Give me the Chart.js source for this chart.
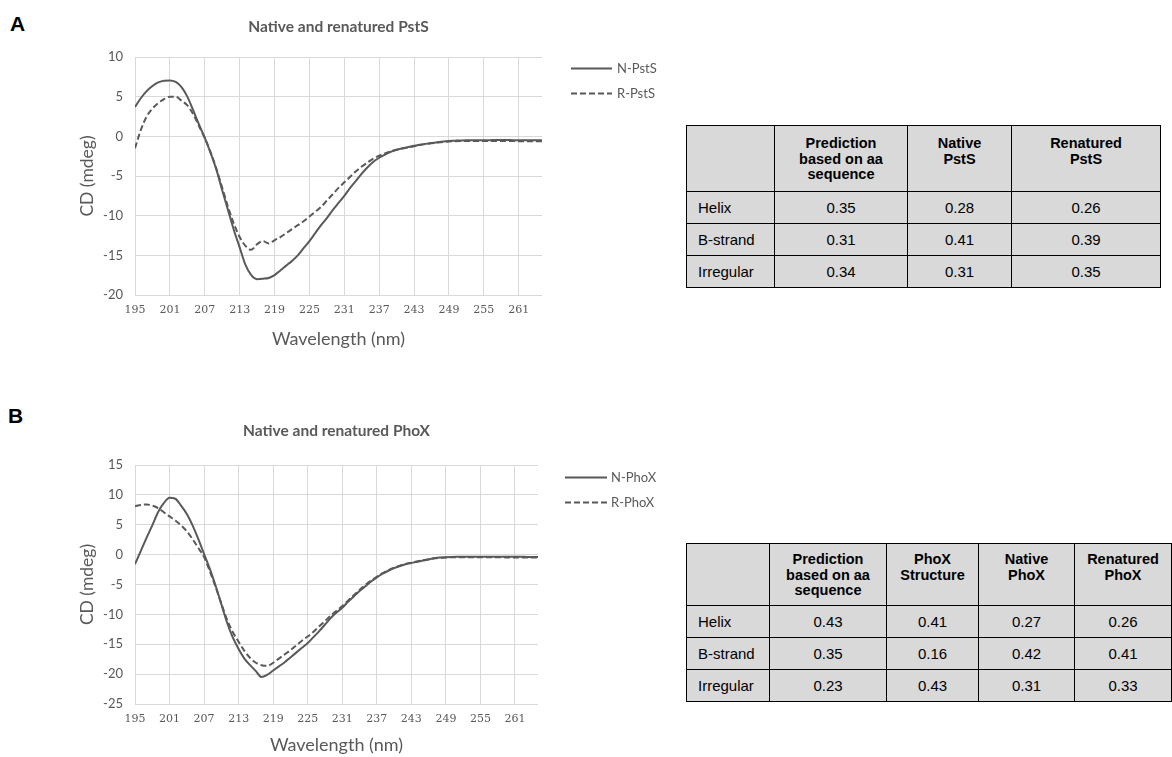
<!DOCTYPE html>
<html>
<head>
<meta charset="utf-8">
<script src="https://cdn.jsdelivr.net/npm/chart.js@4.4.1/dist/chart.umd.min.js"></script>
<style>
  html, body { margin: 0; padding: 0; background: #fff; }
  body { width: 1172px; height: 757px; overflow: hidden; position: relative;
         font-family: "Liberation Sans", Arial, sans-serif; }
  .panel { position: absolute; font-weight: bold; font-size: 21px; line-height: 21px; color: #000; }
  canvas { position: absolute; left: 0; }
  table.cd { position: absolute; border-collapse: collapse; table-layout: fixed;
             background: #d9d9d9; font-size: 15px; color: #000; }
  table.cd td { border: 1.5px solid #000; padding: 0; text-align: center; vertical-align: middle; }
  table.cd tr.head td { font-weight: bold; font-size: 14.5px; line-height: 15.5px; vertical-align: top; }
  table.cd td.rowname { text-align: left; padding-left: 11px; }
</style>
</head>
<body>
<div class="panel" style="left:10px;top:13px;">A</div>
<div class="panel" style="left:8px;top:405px;">B</div>

<canvas id="chartA" width="660" height="370" style="top:0px;"></canvas>
<canvas id="chartB" width="660" height="377" style="top:380px;"></canvas>

<table class="cd" id="tableA" style="left:686px;top:125px;"></table>
<table class="cd" id="tableB" style="left:686px;top:543px;"></table>

<script>
// Wavelength grid (nm) shared by all four CD spectra
const wavelengthNm = [
  195,196,197,198,199,200,201,202,203,204,
  205,206,207,208,209,210,211,212,213,214,
  215,216,217,218,219,220,221,222,223,224,
  225,226,227,228,229,230,231,232,233,234,
  235,236,237,238,239,240,241,242,243,244,
  245,246,247,248,249,250,251,252,253,254,
  255,256,257,258,259,260,261,262,263,264,265
];
const xTickNm = [195, 201, 207, 213, 219, 225, 231, 237, 243, 249, 255, 261];

// CD signal (mdeg), PstS
const nPstS = [
  3.7, 4.8, 5.7, 6.35, 6.8, 7.02, 7.05, 6.85, 6.2, 5.0,
  3.3, 1.5, -0.2, -2.1, -4.2, -6.8, -9.3, -11.8, -14.0, -16.2,
  -17.5, -18.0, -17.95, -17.85, -17.5, -16.9, -16.3, -15.7, -15.0, -14.1,
  -13.2, -12.2, -11.2, -10.3, -9.3, -8.4, -7.5, -6.5, -5.6, -4.7,
  -3.9, -3.2, -2.7, -2.3, -1.95, -1.7, -1.5, -1.35, -1.2, -1.05,
  -0.95, -0.85, -0.75, -0.65, -0.58, -0.55, -0.52, -0.5, -0.5, -0.48,
  -0.48, -0.48, -0.47, -0.47, -0.47, -0.48, -0.48, -0.48, -0.48, -0.49, -0.5
];
const rPstS = [
  -1.5, 0.8, 2.5, 3.5, 4.2, 4.7, 5.0, 5.0, 4.5, 3.9,
  2.8, 1.3, -0.2, -2.0, -4.1, -6.5, -8.9, -11.0, -12.7, -13.8,
  -14.3, -13.6, -13.2, -13.5, -13.1, -12.7, -12.2, -11.7, -11.2, -10.7,
  -10.1, -9.5, -8.9, -8.1, -7.3, -6.5, -5.8, -5.1, -4.4, -3.8,
  -3.3, -2.8, -2.45, -2.15, -1.9, -1.7, -1.55, -1.4, -1.25, -1.1,
  -0.97, -0.87, -0.78, -0.7, -0.64, -0.61, -0.6, -0.6, -0.6, -0.6,
  -0.6, -0.6, -0.6, -0.6, -0.6, -0.6, -0.61, -0.61, -0.61, -0.62, -0.62
];

// CD signal (mdeg), PhoX
const nPhoX = [
  -1.6, 0.6, 2.8, 4.9, 7.1, 8.6, 9.5, 9.35, 8.2, 6.8,
  4.9, 2.6, 0.1, -2.4, -5.2, -8.3, -11.4, -13.9, -15.8, -17.4,
  -18.5, -19.5, -20.5, -20.1, -19.4, -18.7, -18.0, -17.2, -16.4, -15.6,
  -14.8, -13.8, -12.8, -11.7, -10.6, -9.7, -8.9, -7.9, -7.0, -6.1,
  -5.3, -4.5, -3.8, -3.2, -2.7, -2.25, -1.9, -1.6, -1.4, -1.2,
  -1.0, -0.8, -0.62, -0.5, -0.42, -0.38, -0.36, -0.35, -0.35, -0.35,
  -0.35, -0.35, -0.35, -0.35, -0.36, -0.36, -0.37, -0.37, -0.38, -0.39, -0.4
];
const rPhoX = [
  8.1, 8.3, 8.4, 8.2, 7.8, 7.1, 6.4, 5.7, 4.9, 3.9,
  2.6, 1.1, -0.4, -2.8, -5.4, -8.2, -10.9, -13.0, -14.6, -16.1,
  -17.3, -18.1, -18.5, -18.6, -18.1, -17.4, -16.7, -16.0, -15.2, -14.4,
  -13.7, -12.9, -12.0, -11.1, -10.2, -9.4, -8.6, -7.7, -6.8, -5.9,
  -5.1, -4.35, -3.7, -3.1, -2.6, -2.2, -1.85, -1.55, -1.35, -1.15,
  -0.95, -0.78, -0.62, -0.52, -0.47, -0.45, -0.45, -0.45, -0.45, -0.45,
  -0.45, -0.45, -0.46, -0.46, -0.46, -0.47, -0.47, -0.48, -0.48, -0.49, -0.5
];

// Secondary-structure fractions
const structRows = ['Helix', 'B-strand', 'Irregular'];
const pstsHeads = ['Prediction<br>based on aa<br>sequence', 'Native<br>PstS', 'Renatured<br>PstS'];
const pstsPred = [0.35, 0.31, 0.34];
const pstsNative = [0.28, 0.41, 0.31];
const pstsRenat = [0.26, 0.39, 0.35];
const phoxHeads = ['Prediction<br>based on aa<br>sequence', 'PhoX<br>Structure', 'Native<br>PhoX', 'Renatured<br>PhoX'];
const phoxPred = [0.43, 0.35, 0.23];
const phoxStruct = [0.41, 0.16, 0.43];
const phoxNative = [0.27, 0.42, 0.31];
const phoxRenat = [0.26, 0.41, 0.33];

const INK = '#595959';
const GRID = '#d9d9d9';

// Line key drawn to the right of the plot, using each dataset's own stroke style
const seriesKey = {
  id: 'seriesKey',
  afterDraw(chart, args, opts) {
    const { ctx, chartArea } = chart;
    chart.data.datasets.forEach((ds, i) => {
      const y = Math.round(chartArea.top + opts.top + i * opts.gap) + 0.5;
      const x0 = chartArea.right + opts.left;
      ctx.save();
      ctx.strokeStyle = ds.borderColor;
      ctx.lineWidth = ds.borderWidth;
      ctx.setLineDash(ds.borderDash || []);
      ctx.beginPath();
      ctx.moveTo(x0, y);
      ctx.lineTo(x0 + opts.length, y);
      ctx.stroke();
      ctx.setLineDash([]);
      ctx.fillStyle = INK;
      ctx.font = '13px Lato';
      ctx.textBaseline = 'middle';
      ctx.fillText(ds.label, x0 + opts.length + opts.spacing, y);
      ctx.restore();
    });
  }
};

function spectrumChart(id, cfg) {
  return new Chart(document.getElementById(id), {
    type: 'line',
    data: {
      labels: wavelengthNm,
      datasets: [
        { label: cfg.names[0], data: cfg.solid, borderColor: INK, borderWidth: 2,
          pointRadius: 0, cubicInterpolationMode: 'monotone', fill: false },
        { label: cfg.names[1], data: cfg.dashed, borderColor: INK, borderWidth: 2,
          borderDash: [6, 3], pointRadius: 0, cubicInterpolationMode: 'monotone', fill: false }
      ]
    },
    options: {
      responsive: false,
      animation: false,
      devicePixelRatio: 1,
      layout: { padding: cfg.padding },
      plugins: {
        legend: { display: false },
        tooltip: { enabled: false },
        title: {
          display: true, text: cfg.title, color: INK, fullSize: false,
          font: { family: 'Lato', size: 15.5, weight: 'bold' },
          padding: cfg.titlePad
        },
        seriesKey: cfg.key
      },
      scales: {
        x: {
          type: 'linear', min: 195, max: 265,
          afterBuildTicks(scale) { scale.ticks = xTickNm.map(v => ({ value: v })); },
          afterFit(scale) { scale.height = cfg.xHeight; },
          ticks: { autoSkip: false, maxRotation: 0, color: INK, padding: 9,
                   font: { family: 'DejaVu Serif', size: 11 },
                   callback: v => String(v) },
          grid: { color: GRID, lineWidth: 1, drawTicks: false },
          border: { display: false },
          title: { display: true, text: 'Wavelength (nm)', color: INK,
                   font: { family: 'Lato', size: 18 }, padding: { top: 0, bottom: cfg.xTitleBottom } }
        },
        y: {
          min: cfg.yMin, max: cfg.yMax,
          afterFit(scale) { scale.width = 60; },
          ticks: { stepSize: 5, color: INK, padding: 12, font: { family: 'Lato', size: 13 } },
          grid: { color: GRID, lineWidth: 1, drawTicks: false },
          border: { display: false },
          title: { display: true, text: 'CD (mdeg)', color: INK,
                   font: { family: 'Lato', size: 17.5 }, padding: { top: 2, bottom: 0 } }
        }
      }
    },
    plugins: [seriesKey]
  });
}

spectrumChart('chartA', {
  title: 'Native and renatured PstS',
  names: ['N-PstS', 'R-PstS'],
  solid: nPstS, dashed: rPstS,
  yMin: -20, yMax: 10,
  padding: { left: 75, right: 118, top: 10, bottom: 15 },
  titlePad: { top: 8, bottom: 20.4 },
  xHeight: 60, xTitleBottom: 5,
  key: { left: 29, length: 41, spacing: 5, top: 11, gap: 25 }
});

spectrumChart('chartB', {
  title: 'Native and renatured PhoX',
  names: ['N-PhoX', 'R-PhoX'],
  solid: nPhoX, dashed: rPhoX,
  yMin: -25, yMax: 15,
  padding: { left: 75, right: 122, top: 34, bottom: 0 },
  titlePad: { top: 8, bottom: 24.4 },
  xHeight: 53, xTitleBottom: 1,
  key: { left: 27, length: 42, spacing: 4, top: 12, gap: 25 }
});

function fillTable(id, heads, cols, widths, heights) {
  const t = document.getElementById(id);
  let html = '<colgroup>' + widths.map(w => `<col style="width:${w}px">`).join('') + '</colgroup>';
  html += `<tr class="head" style="height:${heights[0]}px"><td></td>` +
          heads.map(h => `<td style="padding-top:${heights[2]}px">${h}</td>`).join('') + '</tr>';
  structRows.forEach((name, r) => {
    html += `<tr style="height:${heights[1]}px"><td class="rowname">${name}</td>` +
            cols.map(c => `<td>${c[r].toFixed(2)}</td>`).join('') + '</tr>';
  });
  t.innerHTML = html;
  t.style.width = widths.reduce((a, b) => a + b, 0) + 'px';
}

fillTable('tableA', pstsHeads, [pstsPred, pstsNative, pstsRenat], [88, 133, 104, 149], [66, 32, 10]);
fillTable('tableB', phoxHeads, [phoxPred, phoxStruct, phoxNative, phoxRenat], [83, 117, 92, 96, 97], [62, 32, 8]);
</script>
</body>
</html>
